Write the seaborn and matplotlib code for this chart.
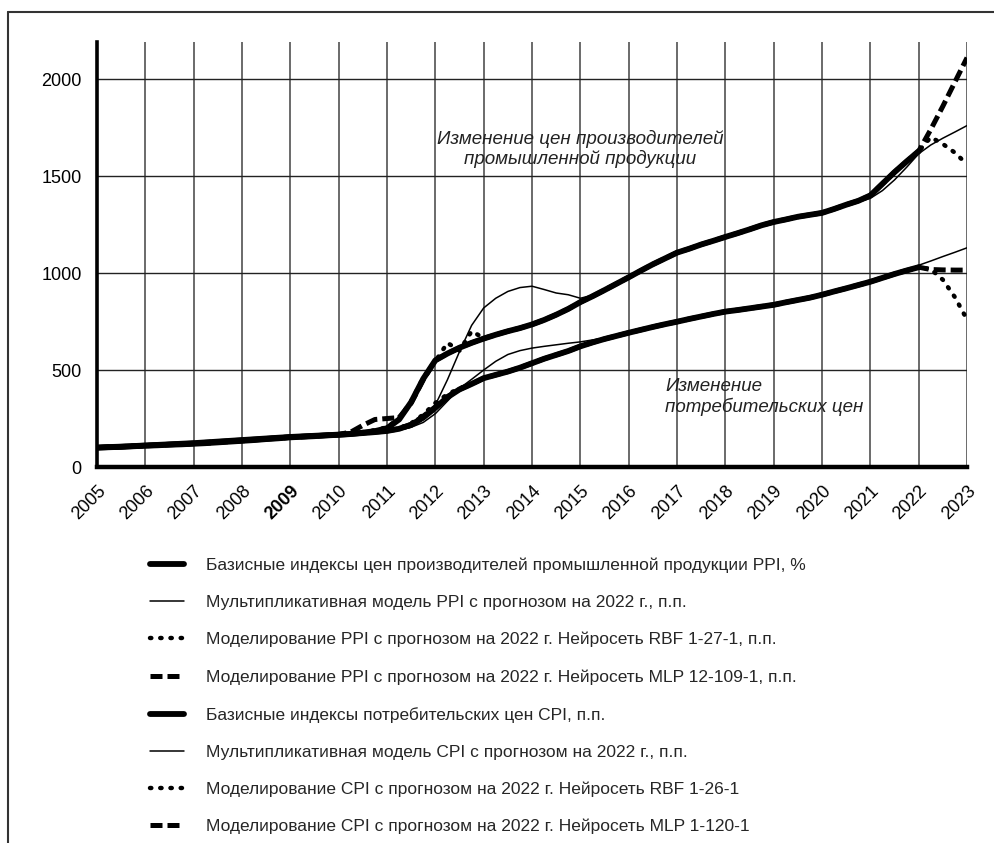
import numpy as np
import pandas as pd
import seaborn as sns
import matplotlib.pyplot as plt
from matplotlib.lines import Line2D

# quarterly time grid 2005.0 ... 2023.0
years = [2005 + q * 0.25 for q in range(73)]
nan = np.nan

# PPI - basic index of producer prices (actual, to 2022)
ppi_actual = [100, 102, 104, 107, 110, 112, 115, 117, 120, 123, 127, 131,
              135, 139, 144, 148, 153, 156, 159, 163, 166, 170, 177, 185,
              200, 245, 335, 455, 550, 585, 615, 640, 662, 682, 700, 716,
              735, 758, 785, 815, 850, 880, 912, 945, 978, 1012, 1045, 1075,
              1105, 1125, 1147, 1166, 1186, 1205, 1225, 1246, 1263, 1276, 1290, 1300,
              1310, 1330, 1352, 1372, 1400, 1460, 1520, 1575, 1628,
              nan, nan, nan, nan]
ppi_mult = [98, 101, 103, 106, 109, 111, 114, 116, 119, 122, 125, 129,
            133, 137, 141, 145, 150, 153, 156, 159, 162, 165, 169, 175,
            182, 190, 205, 245, 320, 450, 595, 730, 820, 870, 905, 925,
            932, 915, 897, 888, 870, 885, 910, 942, 975, 1010, 1042, 1072,
            1100, 1122, 1143, 1163, 1182, 1202, 1222, 1243, 1260, 1273, 1287, 1298,
            1308, 1325, 1345, 1365, 1385, 1425, 1480, 1545, 1615,
            1660, 1695, 1727, 1760]
ppi_rbf = [100, 102, 104, 107, 110, 112, 115, 117, 120, 123, 127, 131,
           135, 139, 144, 148, 153, 156, 159, 163, 166, 172, 180, 190,
           205, 250, 340, 460, 545, 640, 600, 700, 665, 682, 700, 716,
           735, 758, 785, 815, 850, 880, 912, 945, 978, 1012, 1045, 1075,
           1105, 1125, 1147, 1166, 1186, 1205, 1225, 1246, 1263, 1276, 1290, 1300,
           1310, 1330, 1352, 1372, 1400, 1460, 1520, 1575, 1628,
           1700, 1665, 1620, 1560]
ppi_mlp = [100, 102, 104, 107, 110, 112, 115, 117, 120, 123, 127, 131,
           135, 139, 144, 148, 153, 156, 159, 163, 168, 180, 215, 245,
           250, 255, 330, 450, 550, 585, 615, 640, 662, 682, 700, 716,
           735, 758, 785, 815, 850, 880, 912, 945, 978, 1012, 1045, 1075,
           1105, 1125, 1147, 1166, 1186, 1205, 1225, 1246, 1263, 1276, 1290, 1300,
           1310, 1330, 1352, 1372, 1400, 1460, 1520, 1575, 1628,
           1740, 1860, 1985, 2110]

# CPI - basic index of consumer prices (actual, to 2022)
cpi_actual = [100, 103, 105, 108, 111, 114, 117, 120, 123, 127, 131, 135,
              139, 143, 147, 151, 155, 158, 161, 164, 167, 171, 175, 180,
              186, 197, 218, 255, 305, 360, 400, 428, 458, 475, 492, 512,
              535, 558, 578, 598, 622, 642, 660, 676, 692, 707, 722, 736,
              749, 763, 776, 789, 801, 809, 818, 827, 836, 849, 861, 873,
              888, 905, 921, 938, 955, 975, 995, 1013, 1030,
              nan, nan, nan, nan]
cpi_mult = [99, 102, 104, 107, 110, 113, 116, 119, 122, 126, 130, 134,
            138, 142, 146, 150, 154, 157, 160, 163, 166, 170, 174, 178,
            183, 190, 205, 230, 275, 340, 405, 452, 500, 545, 580, 600,
            613, 622, 630, 638, 645, 655, 665, 680, 695, 708, 722, 736,
            749, 763, 776, 789, 801, 809, 818, 827, 836, 849, 861, 873,
            888, 905, 921, 938, 955, 975, 995, 1015, 1040,
            1062, 1085, 1107, 1130]
cpi_rbf = [100, 103, 105, 108, 111, 114, 117, 120, 123, 127, 131, 135,
           139, 143, 147, 151, 155, 158, 161, 164, 167, 171, 175, 180,
           188, 200, 225, 270, 330, 375, 405, 430, 458, 475, 492, 512,
           535, 558, 578, 598, 622, 642, 660, 676, 692, 707, 722, 736,
           749, 763, 776, 789, 801, 809, 818, 827, 836, 849, 861, 873,
           888, 905, 921, 938, 955, 975, 995, 1013, 1030,
           1020, 965, 875, 760]
cpi_mlp = [100, 103, 105, 108, 111, 114, 117, 120, 123, 127, 131, 135,
           139, 143, 147, 151, 155, 158, 161, 164, 167, 171, 175, 180,
           186, 197, 220, 262, 310, 362, 400, 428, 458, 475, 492, 512,
           535, 558, 578, 598, 622, 642, 660, 676, 692, 707, 722, 736,
           749, 763, 776, 789, 801, 809, 818, 827, 836, 849, 861, 873,
           888, 905, 921, 938, 955, 975, 995, 1013, 1030,
           1018, 1016, 1015, 1015]

labels = [
    "Базисные индексы цен производителей промышленной продукции PPI, %",
    "Мультипликативная модель PPI с прогнозом на 2022 г., п.п.",
    "Моделирование PPI с прогнозом на 2022 г. Нейросеть RBF 1-27-1, п.п.",
    "Моделирование PPI с прогнозом на 2022 г. Нейросеть MLP 12-109-1, п.п.",
    "Базисные индексы потребительских цен CPI, п.п.",
    "Мультипликативная модель CPI с прогнозом на 2022 г., п.п.",
    "Моделирование CPI с прогнозом на 2022 г. Нейросеть RBF 1-26-1",
    "Моделирование CPI с прогнозом на 2022 г. Нейросеть MLP 1-120-1",
]
series = [ppi_actual, ppi_mult, ppi_rbf, ppi_mlp,
          cpi_actual, cpi_mult, cpi_rbf, cpi_mlp]
kinds = ["actual", "mult", "rbf", "mlp"] * 2

year_ticks = list(range(2005, 2024))
y_ticks = [0, 500, 1000, 1500, 2000]

sns.set_style("white")
plt.rcParams['font.family'] = ['Liberation Sans', 'DejaVu Sans']

styles = {
    "actual": dict(lw=4.2, ls="-", solid_capstyle="round"),
    "mult": dict(lw=1.1, ls="-"),
    "rbf": dict(lw=3.2, ls=(0, (0.3, 2.0)), dash_capstyle="round"),
    "mlp": dict(lw=3.6, ls=(0, (2.4, 1.0))),
}

fig = plt.figure(figsize=(9.95, 8.43), dpi=100)
ax = fig.add_axes([0.0975, 0.446, 0.8744, 0.504])

for vals, lab, kind in zip(series, labels, kinds):
    d = pd.DataFrame({"year": years, "value": vals}).dropna()
    sns.lineplot(data=d, x="year", y="value", ax=ax, color="black",
                 label=lab, legend=False, **styles[kind])

ax.set_xlim(2005, 2023)
ax.set_ylim(0, 2190)
ax.set_xticks(year_ticks)
ax.set_xticklabels([str(y) for y in year_ticks], rotation=45, ha="right",
                   rotation_mode="anchor", fontsize=13)
ax.get_xticklabels()[4].set_fontweight("bold")
ax.set_yticks(y_ticks)
ax.set_yticklabels([str(v) for v in y_ticks], fontsize=13)
ax.set_xlabel("")
ax.set_ylabel("")

# grid: gray verticals, dark horizontals
for y in year_ticks[1:]:
    ax.axvline(y, color="#6a6a6a", lw=1.4, zorder=0)
for v in y_ticks[1:]:
    ax.axhline(v, color="#222222", lw=1.0, zorder=0)

for s in ["top", "right"]:
    ax.spines[s].set_visible(False)
ax.spines["left"].set_linewidth(2.6)
ax.spines["bottom"].set_linewidth(3.2)
ax.spines["left"].set_color("black")
ax.spines["bottom"].set_color("black")
ax.tick_params(axis="y", length=7, width=1.4, direction="out", pad=4, colors="black")
ax.tick_params(axis="x", length=5, width=3, direction="out", pad=6, colors="black")

ax.text(2015.0, 1640, "Изменение цен производителей\nпромышленной продукции",
        ha="center", va="center", fontsize=13.5, style="italic",
        color="#222222", linespacing=1.15)
ax.text(2016.75, 361, "Изменение\nпотребительских цен",
        ha="left", va="center", fontsize=13.5, style="italic",
        color="#222222", linespacing=1.15)

handles = ax.get_lines()[:8]
fig.legend(handles, labels, loc="center left", bbox_to_anchor=(0.1417, 0.1744),
           frameon=False, fontsize=12.5, handlelength=1.95, handletextpad=1.3,
           labelspacing=1.26, borderpad=0)

# frame of the picture: left and top edges only
x0, y0 = 8 / 995, 1 - 12 / 843
fig.add_artist(Line2D([x0, x0], [y0, 0], transform=fig.transFigure,
                      color="#333333", lw=1.5))
fig.add_artist(Line2D([x0, 1], [y0, y0], transform=fig.transFigure,
                      color="#333333", lw=1.5))

fig.savefig("out.png", dpi=100)
